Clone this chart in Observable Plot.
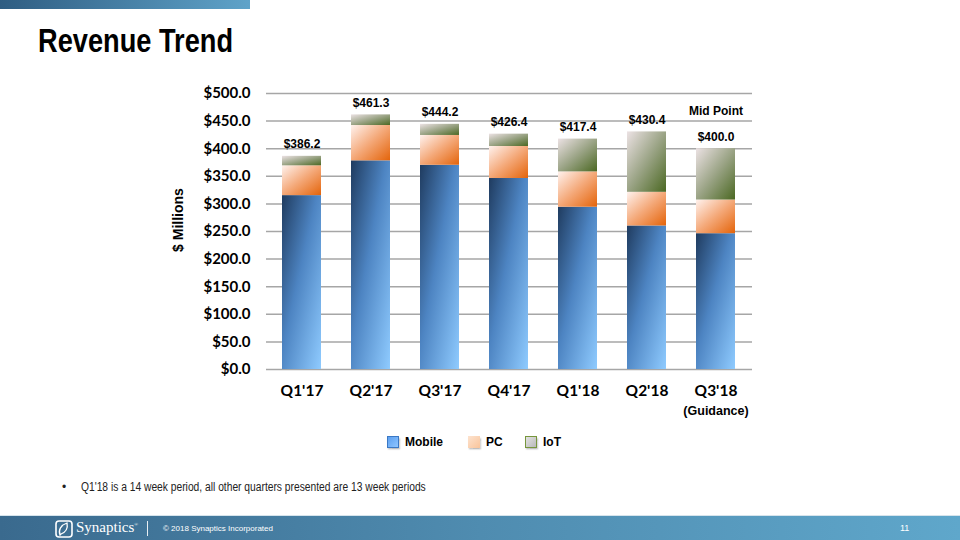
<!DOCTYPE html>
<html>
<head>
<meta charset="utf-8">
<script src="https://cdn.jsdelivr.net/npm/d3@7"></script>
<script src="https://cdn.jsdelivr.net/npm/@observablehq/plot@0.6"></script>
<style>
  body { margin:0; width:960px; height:540px; position:relative; overflow:hidden; background:#fff; font-family:"Liberation Sans", Arial, sans-serif; }
  #topbar { position:absolute; left:0; top:0; width:250px; height:9px; background:linear-gradient(90deg,#2f5d82,#5fa3c9); }
  #title { position:absolute; left:38px; top:23px; font-size:34px; line-height:34px; font-weight:bold; color:#000; transform:scaleX(0.8); transform-origin:left top; white-space:nowrap; }
  #chart { position:absolute; left:0; top:0; }
  #ylabel { position:absolute; left:178px; top:220px; transform:translate(-50%,-50%) rotate(-90deg); font-size:14px; font-weight:bold; white-space:nowrap; color:#000; }
  .lg { position:absolute; top:435px; height:13px; display:flex; align-items:center; font-size:12px; font-weight:bold; color:#000; white-space:nowrap; }
  .sw { width:12px; height:12px; margin-right:6px; box-sizing:border-box; box-shadow:1px 1.5px 1.5px rgba(0,0,0,0.25); }
  #note { position:absolute; left:62px; top:480px; font-size:12px; line-height:14px; color:#222; white-space:nowrap; }
  #note span.t { display:inline-block; transform:scaleX(0.855); transform-origin:left center; }
  #footer { position:absolute; left:0; top:515px; width:960px; height:25px; background:linear-gradient(90deg,#3a6a8e,#4f8cb0 50%,#5fa7cb); border-top:1px solid #d6e4ec; }
  #footer .syn { position:absolute; left:76px; top:3px; font-family:"Liberation Serif","DejaVu Serif",serif; font-size:15px; color:#fff; }
  #footer .sep { position:absolute; left:147px; top:5px; width:1px; height:15px; background:#e8eef2; }
  #footer .copy { position:absolute; left:163px; top:8px; font-size:8px; color:#fff; white-space:nowrap; }
  #footer .pg { position:absolute; left:900px; top:7px; font-size:9px; color:#fff; }
</style>
</head>
<body>
<div id="topbar"></div>
<div id="title">Revenue Trend</div>
<div id="chart"></div>
<div id="ylabel">$ Millions</div>
<div class="lg" style="left:387px"><div class="sw" style="background:linear-gradient(135deg,#5c9ff0,#8fc6ff);border:1.5px solid #3b78c4"></div>Mobile</div>
<div class="lg" style="left:468px"><div class="sw" style="background:linear-gradient(135deg,#fde3cf,#f9c49a);"></div>PC</div>
<div class="lg" style="left:525px"><div class="sw" style="background:linear-gradient(135deg,#e2e2e2,#b9b9b9);border:1.5px solid #77963c"></div>IoT</div>
<div id="note">•<span style="display:inline-block;width:15px"></span><span class="t">Q1'18 is a 14 week period, all other quarters presented are 13 week periods</span></div>
<div id="footer">
  <svg style="position:absolute;left:55px;top:4px" width="18" height="18" viewBox="0 0 18 18">
    <rect x="1" y="1" width="16" height="16" rx="3" fill="none" stroke="#fff" stroke-width="1.6"/>
    <path d="M5 15 C3 10 6 5 12 3 C13 8 11 12 6 14 Z" fill="none" stroke="#fff" stroke-width="1.3"/>
  </svg>
  <div class="syn">Synaptics<sup style="font-size:5px">®</sup></div>
  <div class="sep"></div>
  <div class="copy">© 2018 Synaptics Incorporated</div>
  <div class="pg">11</div>
</div>
<script>
const quarters = ["Q1'17","Q2'17","Q3'17","Q4'17","Q1'18","Q2'18","Q3'18"];
const series = ["Mobile","PC","IoT"];
const mobile = [315, 378, 370, 346, 294, 260, 246];
const pc     = [54, 64, 54, 58, 64, 61, 61];
const iot    = [17.2, 19.3, 20.2, 22.4, 59.4, 109.4, 93.0];
const totals = [386.2, 461.3, 444.2, 426.4, 417.4, 430.4, 400.0];
const yTicks = [0, 50, 100, 150, 200, 250, 300, 350, 400, 450, 500];

const rows = [];
quarters.forEach((q, i) => {
  rows.push({q, s:"Mobile", v:mobile[i]});
  rows.push({q, s:"PC", v:pc[i]});
  rows.push({q, s:"IoT", v:iot[i]});
});
const totalRows = quarters.map((q, i) => ({q, t: totals[i]}));
const lastQ = quarters[quarters.length - 1];

const chart = Plot.plot({
  width: 960, height: 540,
  marginLeft: 266, marginRight: 208, marginTop: 93, marginBottom: 171,
  style: {fontFamily: "Lato, sans-serif", color: "#000", background: "transparent", overflow: "visible"},
  x: {domain: quarters, paddingInner: 0.43, paddingOuter: 0.215, label: null},
  y: {domain: [0, 500], label: null},
  color: {domain: series, range: ["url(#gMobile)", "url(#gPC)", "url(#gIoT)"]},
  marks: [
    Plot.gridY(yTicks, {stroke: "#a6a6a6", strokeOpacity: 1, strokeWidth: 1.5}),
    Plot.barY(rows, {x: "q", y: "v", fill: "s", z: "s", order: series}),
    Plot.axisY(yTicks, {tickSize: 0, tickPadding: 16, tickFormat: d => "$" + d.toFixed(1), fontSize: 15, fontWeight: "bold", fontFamily: "Lato", fill: "#000"}),
    Plot.axisX({tickSize: 0, tickPadding: 15, fontSize: 15.5, fontWeight: "bold", fontFamily: "Lato", fill: "#000"}),
    Plot.text(totalRows, {x: "q", y: "t", text: d => "$" + d.t.toFixed(1), dy: -12, fontSize: 12, fontWeight: "bold", fontFamily: "Liberation Sans, Arial", fill: "#000"}),
    Plot.text([{q: lastQ, t: totals[totals.length - 1]}], {x: "q", y: "t", text: () => "Mid Point", dy: -38, fontSize: 12, fontWeight: "bold", fontFamily: "Liberation Sans, Arial", fill: "#000"}),
    Plot.text([{q: lastQ}], {x: "q", y: () => 0, text: () => "(Guidance)", dy: 41, fontSize: 12.5, fontWeight: "bold", fontFamily: "Liberation Sans, Arial", fill: "#000"})
  ]
});

const defs = d3.select(chart).insert("defs", ":first-child");
function grad(id, stops) {
  const g = defs.append("linearGradient").attr("id", id).attr("x1", 0).attr("y1", 0).attr("x2", 1).attr("y2", 1);
  stops.forEach(([o, c]) => g.append("stop").attr("offset", o).attr("stop-color", c));
}
grad("gMobile", [[0, "#1f3b5f"], [0.45, "#4d84c2"], [1, "#8fcbff"]]);
grad("gPC", [[0, "#fff2ee"], [0.5, "#f4a878"], [1, "#e4640a"]]);
grad("gIoT", [[0, "#ece2e4"], [0.5, "#9ba486"], [1, "#4b6822"]]);

document.getElementById("chart").appendChild(chart);
</script>
</body>
</html>
